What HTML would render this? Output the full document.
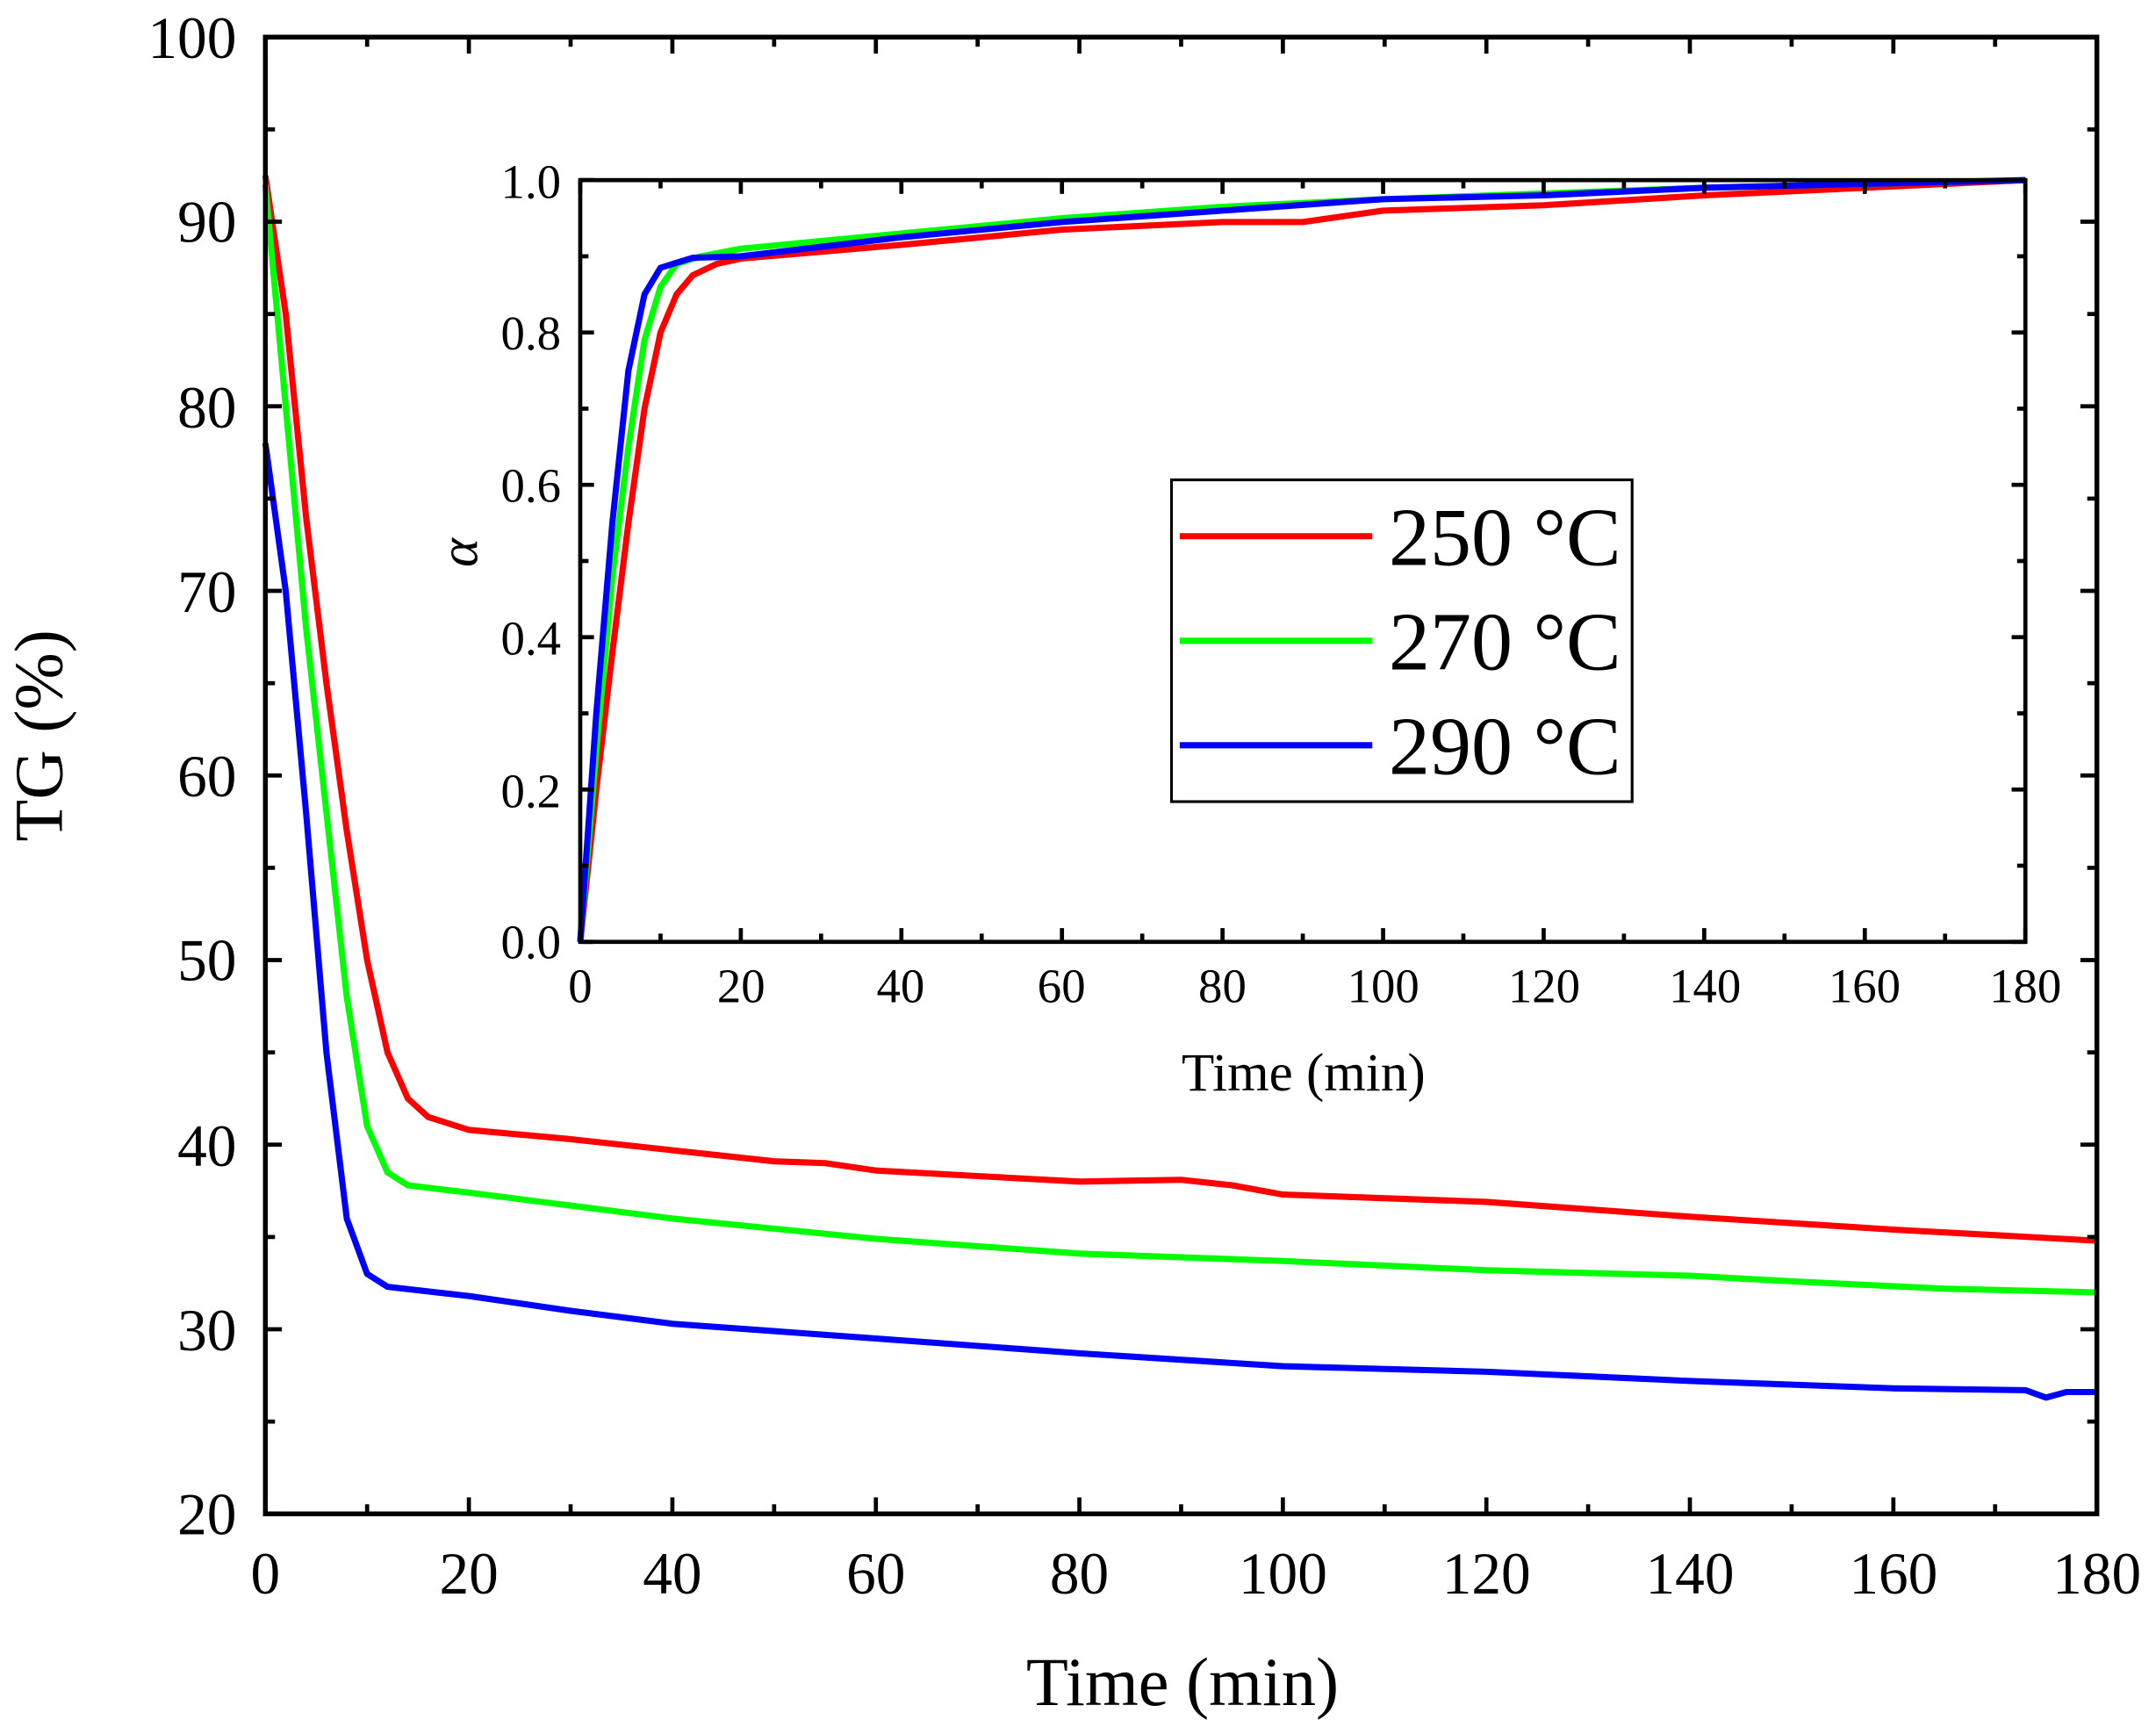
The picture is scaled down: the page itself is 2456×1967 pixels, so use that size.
<!DOCTYPE html>
<html><head><meta charset="utf-8"><style>html,body{margin:0;padding:0;background:#fff}svg{display:block}</style></head>
<body>
<svg id="s" xmlns="http://www.w3.org/2000/svg" width="2456" height="1967" viewBox="0 0 1568 1256" preserveAspectRatio="none" font-family="Liberation Serif, serif">
<rect width="1568" height="1256" fill="#fff"/>
<g id="curves"></g>
<g id="ticks" stroke="#000" stroke-width="3"></g>
<rect x="193" y="27" width="1332" height="1074" fill="none" stroke="#000" stroke-width="3.5"/>
<rect x="422" y="131" width="1051" height="554" fill="none" stroke="#000" stroke-width="3"/>
<g font-size="43" text-anchor="middle">
<text x="193" y="1159">0</text><text x="341" y="1159">20</text><text x="489" y="1159">40</text><text x="637" y="1159">60</text><text x="785" y="1159">80</text><text x="933" y="1159">100</text><text x="1081" y="1159">120</text><text x="1229" y="1159">140</text><text x="1377" y="1159">160</text><text x="1525" y="1159">180</text>
</g>
<g font-size="43" text-anchor="end">
<text x="172" y="42">100</text><text x="172" y="176">90</text><text x="172" y="311">80</text><text x="172" y="445">70</text><text x="172" y="579">60</text><text x="172" y="713">50</text><text x="172" y="848">40</text><text x="172" y="982">30</text><text x="172" y="1116">20</text>
</g>
<text x="860" y="1240" font-size="50" text-anchor="middle">Time (min)</text>
<text transform="translate(45,535) rotate(-90)" font-size="50" text-anchor="middle">TG (%)</text>
<g font-size="35" text-anchor="middle">
<text x="422" y="729">0</text><text x="539" y="729">20</text><text x="655" y="729">40</text><text x="772" y="729">60</text><text x="889" y="729">80</text><text x="1006" y="729">100</text><text x="1123" y="729">120</text><text x="1240" y="729">140</text><text x="1356" y="729">160</text><text x="1473" y="729">180</text>
</g>
<g font-size="35" text-anchor="end">
<text x="408" y="697">0.0</text><text x="408" y="587">0.2</text><text x="408" y="476">0.4</text><text x="408" y="365">0.6</text><text x="408" y="254">0.8</text><text x="408" y="144">1.0</text>
</g>
<text x="948" y="793" font-size="39" text-anchor="middle">Time (min)</text>
<text transform="translate(347,402) rotate(-90)" font-size="40" font-style="italic" text-anchor="middle">α</text>
<rect x="852" y="349" width="335" height="234" fill="#fff" stroke="#000" stroke-width="2"/>
<line x1="858" y1="390" x2="998" y2="390" stroke="#f00" stroke-width="4.5"/>
<line x1="858" y1="466" x2="998" y2="466" stroke="#0f0" stroke-width="4.5"/>
<line x1="858" y1="542" x2="998" y2="542" stroke="#00f" stroke-width="4.5"/>
<g font-size="60"><text x="1010" y="411">250 °C</text><text x="1010" y="487">270 °C</text><text x="1010" y="563">290 °C</text></g>
</svg>
<script>
var NS="http://www.w3.org/2000/svg";
function el(p,t,a){var e=document.createElementNS(NS,t);for(var k in a)e.setAttribute(k,a[k]);p.appendChild(e);return e;}
var c=document.getElementById('curves'),tk=document.getElementById('ticks');
function mx(v){return 193+7.4*v}function my(v){return 27+13.425*(100-v)}
function ix(v){return 422+1051*v/180}function iy(v){return 685-554*v}
function poly(d,fx,fy,col){el(c,'polyline',{points:d.map(function(p){return fx(p[0])+','+fy(p[1])}).join(' '),fill:'none',stroke:col,'stroke-width':4.5,'stroke-linejoin':'round'});}
var R=[[0,92.5],[2,85],[4,74],[6,65],[8,57],[10,50],[12,45],[14,42.5],[16,41.5],[20,40.8],[30,40.3],[40,39.7],[50,39.1],[55,39],[60,38.6],[70,38.3],[80,38],[90,38.1],[95,37.8],[100,37.3],[120,36.9],[140,36.1],[160,35.4],[180,34.8]];
var G=[[0,92],[2,80],[4,68],[6,58],[8,48],[10,41],[12,38.5],[14,37.8],[20,37.4],[40,36],[60,34.9],[80,34.1],[100,33.7],[120,33.2],[140,32.9],[150,32.6],[165,32.2],[180,32]];
var B=[[0,78],[2,70],[4,58],[6,45],[8,36],[10,33],[12,32.3],[20,31.8],[30,31],[40,30.3],[60,29.5],[80,28.7],[100,28],[120,27.7],[140,27.2],[160,26.8],[173,26.7],[175,26.3],[177,26.6],[180,26.6]];
var r=[[0,0],[2,0.2],[4,0.38],[6,0.55],[8,0.7],[10,0.8],[12,0.85],[14,0.875],[17,0.89],[20,0.897],[40,0.915],[60,0.935],[80,0.945],[90,0.945],[100,0.96],[120,0.967],[140,0.98],[160,0.99],[180,1]];
var g=[[0,0],[2,0.25],[4,0.48],[6,0.65],[8,0.79],[10,0.86],[12,0.89],[15,0.9],[20,0.91],[40,0.93],[60,0.95],[80,0.965],[100,0.975],[140,0.99],[180,1]];
var b=[[0,0],[2,0.3],[4,0.55],[6,0.75],[8,0.85],[10,0.885],[14,0.898],[20,0.9],[40,0.925],[60,0.945],[80,0.96],[100,0.975],[120,0.98],[140,0.99],[160,0.995],[180,1]];
poly(R,mx,my,'#f00');poly(G,mx,my,'#0f0');poly(B,mx,my,'#00f');
poly(r,ix,iy,'#f00');poly(g,ix,iy,'#0f0');poly(b,ix,iy,'#00f');
function L(x1,y1,x2,y2){el(tk,'line',{x1:x1,y1:y1,x2:x2,y2:y2});}
for(var v=0;v<=180;v+=10){var x=mx(v),l=v%20?7:12;L(x,1101,x,1101-l);L(x,27,x,27+l);
 var xi=ix(v),li=v%20?6:10;L(xi,685,xi,685-li);L(xi,131,xi,131+li);}
for(var v=20;v<=100;v+=5){var y=my(v),l=v%10?7:12;L(193,y,193+l,y);L(1525,y,1525-l,y);}
for(var i=0;i<=10;i++){var y=iy(i/10),l=i%2?6:10;L(422,y,422+l,y);L(1473,y,1473-l,y);}
</script>
</body></html>
